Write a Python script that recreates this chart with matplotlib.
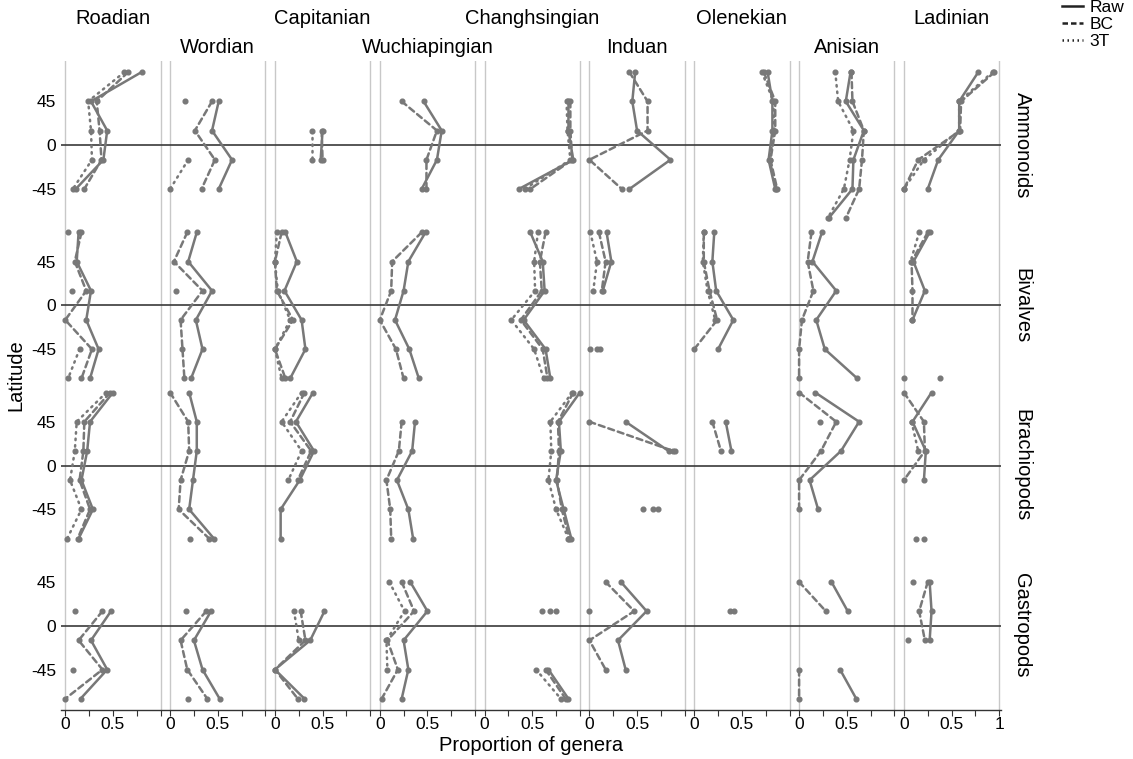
import numpy as np
import matplotlib
matplotlib.use("Agg")
import matplotlib.pyplot as plt
from matplotlib.lines import Line2D
from matplotlib.transforms import blended_transform_factory

plt.rcParams["font.family"] = ["Liberation Sans", "DejaVu Sans"]

N = np.nan

stages = ["Roadian", "Wordian", "Capitanian", "Wuchiapingian", "Changhsingian",
          "Induan", "Olenekian", "Anisian", "Ladinian"]
taxa = ["Ammonoids", "Bivalves", "Brachiopods", "Gastropods"]
lat_bins = [75, 45, 15, -15, -45, -75]
methods = ["Raw", "BC", "3T"]

# proportion of genera per stage (rows) and latitude bin (columns)
ammonoids_raw = [[0.80, 0.27, 0.44, 0.40, 0.11, N], [N, 0.51, 0.44, 0.65, 0.51, N],
                 [N, N, 0.50, 0.48, N, N], [N, 0.46, 0.65, 0.60, 0.44, N],
                 [N, 0.88, 0.88, 0.93, 0.36, N], [0.48, 0.45, 0.50, 0.85, 0.42, N],
                 [0.77, 0.82, 0.82, 0.78, 0.85, N], [0.54, 0.49, 0.68, 0.57, 0.56, 0.31],
                 [0.78, 0.58, 0.58, 0.36, 0.25, N]]
ammonoids_bc = [[0.66, 0.33, 0.36, 0.38, 0.20, N], [N, 0.44, 0.26, 0.47, 0.33, N],
                [N, N, 0.49, 0.50, N, N], [N, 0.23, 0.60, 0.49, 0.49, N],
                [N, 0.90, 0.90, 0.92, 0.48, N], [0.42, 0.61, 0.61, 0.00, 0.34, N],
                [0.73, 0.85, 0.85, 0.80, 0.87, N], [0.55, 0.56, 0.68, 0.66, 0.63, 0.49],
                [0.95, 0.60, 0.59, 0.15, 0.00, N]]
ammonoids_3t = [[0.62, 0.24, 0.27, 0.28, 0.08, N], [N, 0.16, N, 0.19, 0.00, N],
                [N, N, 0.39, 0.39, N, N], [N, N, N, N, N, N],
                [N, 0.86, 0.87, 0.90, 0.42, N], [N, N, N, N, N, N],
                [0.71, 0.83, 0.84, 0.79, 0.86, N], [0.38, 0.41, 0.57, 0.53, 0.47, 0.30],
                [0.93, 0.58, 0.58, 0.21, 0.00, N]]

bivalves_raw = [[0.14, 0.12, 0.27, 0.22, 0.35, 0.26], [0.28, 0.19, 0.44, 0.27, 0.34, 0.22],
                [0.11, 0.23, 0.10, 0.28, 0.32, 0.16], [0.48, 0.30, 0.25, 0.16, 0.31, 0.41],
                [0.48, 0.61, 0.63, 0.41, 0.64, 0.69], [0.18, 0.23, 0.14, N, 0.11, N],
                [0.21, 0.19, 0.23, 0.41, 0.25, N], [0.24, 0.14, 0.39, 0.18, 0.27, 0.61],
                [0.27, 0.10, 0.22, 0.09, N, 0.38]]
bivalves_bc = [[0.17, 0.10, 0.22, 0.00, 0.28, 0.17], [0.18, 0.04, 0.34, 0.11, 0.13, 0.15],
               [0.07, 0.00, 0.02, 0.19, 0.00, 0.11], [0.44, 0.13, 0.12, 0.00, 0.17, 0.25],
               [0.64, 0.58, 0.60, 0.38, 0.61, 0.66], [0.10, 0.17, 0.13, N, 0.08, N],
               [0.10, 0.10, 0.16, 0.24, 0.00, N], [0.13, 0.09, 0.15, 0.03, 0.00, 0.00],
               [0.25, 0.08, 0.09, 0.09, N, 0.00]]
bivalves_3t = [[0.03, N, 0.07, N, 0.15, 0.03], [N, N, 0.06, N, N, N],
               [0.02, 0.00, 0.03, 0.16, 0.00, 0.07], [N, N, N, N, N, N],
               [0.56, 0.52, 0.53, 0.28, 0.52, 0.62], [0.01, 0.08, 0.04, N, 0.01, N],
               [0.10, 0.09, 0.14, 0.22, N, N], [N, N, N, N, N, N],
               [0.16, 0.07, N, N, N, N]]

brachiopods_raw = [[0.50, 0.26, 0.23, 0.17, 0.29, 0.14], [0.20, 0.28, 0.28, 0.24, 0.20, 0.46],
                   [0.40, 0.22, 0.41, 0.26, 0.06, 0.06], [N, 0.37, 0.34, 0.18, 0.30, 0.35],
                   [1.00, 0.78, 0.80, 0.75, 0.83, 0.91], [N, 0.38, 0.83, N, 0.72, N],
                   [N, 0.33, 0.39, N, N, N], [0.17, 0.63, 0.44, 0.11, 0.20, N],
                   [0.29, 0.09, 0.23, 0.21, N, 0.21]]
brachiopods_bc = [[0.47, 0.20, 0.19, 0.15, 0.26, 0.13], [0.00, 0.19, 0.20, 0.11, 0.09, 0.41],
                  [0.31, 0.16, 0.38, 0.24, N, N], [N, 0.23, 0.20, 0.07, 0.11, 0.12],
                  [0.93, 0.77, 0.78, 0.76, 0.81, 0.89], [N, 0.00, 0.88, N, 0.56, N],
                  [N, 0.19, 0.28, N, N, N], [0.00, 0.39, 0.23, 0.00, 0.00, N],
                  [0.00, 0.21, 0.22, 0.00, N, 0.13]]
brachiopods_3t = [[0.43, 0.12, 0.10, 0.05, 0.17, 0.02], [N, N, N, N, N, 0.21],
                  [0.28, 0.07, 0.28, 0.14, N, N], [N, N, N, N, N, N],
                  [0.92, 0.69, 0.70, 0.67, 0.75, 0.88], [N, N, 0.90, N, 0.67, N],
                  [N, N, N, N, N, N], [N, 0.22, N, N, N, N],
                  [N, 0.08, 0.15, N, N, N]]

gastropods_raw = [[N, N, 0.48, 0.27, 0.44, 0.16], [N, N, 0.43, 0.25, 0.34, 0.52],
                  [N, N, 0.52, 0.37, 0.00, 0.31], [N, 0.32, 0.50, 0.25, 0.30, 0.23],
                  [N, N, 0.75, N, 0.67, 0.88], [N, 0.33, 0.60, 0.30, 0.38, N],
                  [N, N, 0.42, N, N, N], [N, 0.34, 0.51, N, 0.43, 0.60],
                  [N, 0.27, 0.29, 0.27, N, N]]
gastropods_bc = [[N, N, 0.39, 0.14, 0.39, 0.00], [N, N, 0.38, 0.11, 0.18, 0.39],
                 [N, N, 0.27, 0.32, 0.00, 0.24], [N, 0.23, 0.36, 0.08, 0.19, 0.02],
                 [N, N, 0.69, N, 0.64, 0.85], [N, 0.17, 0.47, 0.00, 0.17, N],
                 [N, N, 0.38, N, N, N], [N, 0.00, 0.28, N, 0.00, 0.00],
                 [N, 0.25, 0.16, 0.22, N, N]]
gastropods_3t = [[N, N, 0.10, N, 0.08, N], [N, N, 0.17, N, N, 0.19],
                 [N, N, 0.20, 0.25, N, N], [N, 0.10, 0.26, 0.07, 0.08, N],
                 [N, N, 0.60, N, 0.54, 0.80], [N, N, 0.00, N, N, N],
                 [N, N, N, N, N, N], [N, N, N, N, N, N],
                 [N, 0.10, N, 0.04, N, N]]

data = {
    "Ammonoids": [ammonoids_raw, ammonoids_bc, ammonoids_3t],
    "Bivalves": [bivalves_raw, bivalves_bc, bivalves_3t],
    "Brachiopods": [brachiopods_raw, brachiopods_bc, brachiopods_3t],
    "Gastropods": [gastropods_raw, gastropods_bc, gastropods_3t],
}

COL_STEP = 1.1      # horizontal offset between stage panels
ROW_STEP = 164.5    # vertical offset between taxon panels (degrees)
LINE_COLOR = "#787878"
styles = ["-", (0, (2.4, 1.6)), (0, (0.6, 2.0))]

fig = plt.figure(figsize=(11.33, 7.59), dpi=100)
ax = fig.add_axes([0.0534, 0.0646, 0.8302, 0.8551])

lats = np.array(lat_bins, dtype=float)

# panel separators
for c in range(len(stages)):
    for edge in (0.0, 1.0):
        ax.axvline(c * COL_STEP + edge, color="#c8c8c8", lw=1.0, zorder=0)

for r, taxon in enumerate(taxa):
    ax.axhline(-r * ROW_STEP, color="#3a3a3a", lw=1.2, zorder=1)
    for m, series in enumerate(data[taxon]):
        for c in range(len(stages)):
            vals = np.array(series[c], dtype=float)
            x = c * COL_STEP + vals
            y = lats - r * ROW_STEP
            ax.plot(x, y, color=LINE_COLOR, lw=1.8, ls=styles[m],
                    solid_capstyle="butt", dash_capstyle="round", zorder=3)
            ok = ~np.isnan(vals)
            ax.plot(x[ok], y[ok], ls="none", marker="o", ms=3.4,
                    color=LINE_COLOR, mec=LINE_COLOR, zorder=4)

# axes limits
ax.set_xlim(-0.05, (len(stages) - 1) * COL_STEP + 1.02)
ax.set_ylim(-(len(taxa) - 1) * ROW_STEP - 86.5, 86.5)

# x ticks
major, labels, minor = [], [], []
for c in range(len(stages)):
    base = c * COL_STEP
    major += [base, base + 0.5]
    labels += ["0", "0.5"]
    minor += [base + 0.25, base + 0.75]
    if c == len(stages) - 1:
        major.append(base + 1.0)
        labels.append("1")
    else:
        minor.append(base + 1.0)
ax.set_xticks(major)
ax.set_xticklabels(labels, fontsize=12.5)
ax.set_xticks(minor, minor=True)
ax.tick_params(axis="x", which="both", direction="out", length=4, width=0.8,
               color="#333333", pad=1)

# y ticks
yt, ytl = [], []
for r in range(len(taxa)):
    for v in (45, 0, -45):
        yt.append(v - r * ROW_STEP)
        ytl.append(str(v))
ax.set_yticks(yt)
ax.set_yticklabels(ytl, fontsize=12.5)
ax.tick_params(axis="y", length=0, pad=3)

for s in ("top", "right", "left"):
    ax.spines[s].set_visible(False)
ax.spines["bottom"].set_color("#333333")
ax.spines["bottom"].set_linewidth(1.0)

ax.set_xlabel("Proportion of genera", fontsize=14.5, labelpad=3)
fig.text(0.014, 0.506, "Latitude", rotation=90, fontsize=14.5, ha="center", va="center")

# stage labels, staggered
tr = blended_transform_factory(ax.transData, fig.transFigure)
for c, st in enumerate(stages):
    yy = 0.976 if c % 2 == 0 else 0.937
    ax.text(c * COL_STEP + 0.5, yy, st, transform=tr, ha="center", va="center", fontsize=14.5)

# taxon labels on the right
tr2 = blended_transform_factory(fig.transFigure, ax.transData)
for r, taxon in enumerate(taxa):
    ax.text(0.902, -r * ROW_STEP, taxon, transform=tr2, rotation=-90,
            ha="center", va="center", fontsize=14.5)

# legend
handles = [Line2D([], [], color="#222222", lw=1.8, ls=s) for s in
           ["-", (0, (2.2, 1.2)), (0, (0.6, 1.4))]]
fig.legend(handles, methods, loc="upper right", bbox_to_anchor=(1.0, 1.012),
           frameon=False, fontsize=12.5, handlelength=1.2, handletextpad=0.4,
           labelspacing=0.12, borderaxespad=0.1)

fig.savefig("out.png", dpi=100)
